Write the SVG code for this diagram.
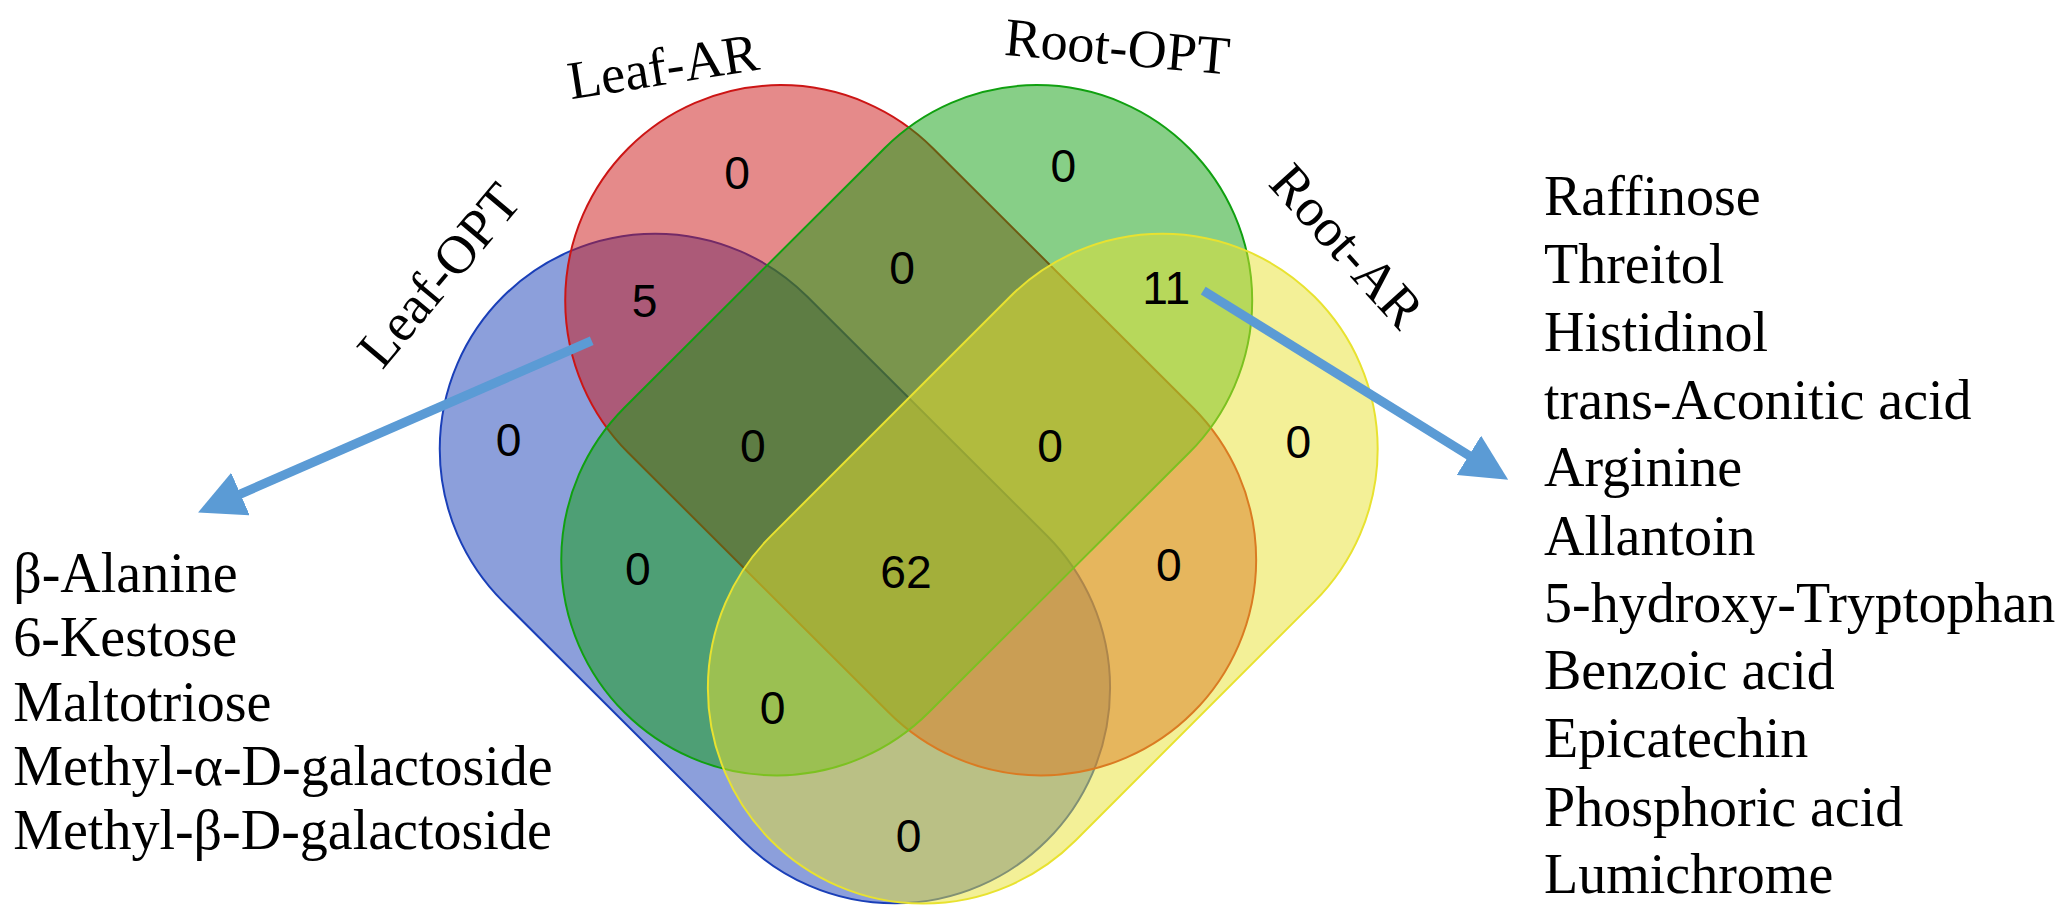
<svg xmlns="http://www.w3.org/2000/svg" width="2071" height="914" viewBox="0 0 2071 914">
<style>
.s{stroke-width:1.5}
.n{font-family:"Liberation Sans",Arial,sans-serif;font-size:35px;text-anchor:middle;fill:#000}
.t{font-family:"Liberation Serif","Times New Roman",serif;font-size:42.4px;fill:#000}
.h{font-family:"Liberation Serif","Times New Roman",serif;font-size:41px;fill:#000;text-anchor:middle}
.a{stroke:#5b9bd5;stroke-width:7;fill:none}
</style>
<defs>
<marker id="ah" markerWidth="5" markerHeight="5" refX="2.5" refY="2.5" orient="auto" markerUnits="strokeWidth">
<path d="M0,0 L5,2.5 L0,5 Z" fill="#5b9bd5"/>
</marker>
</defs>
<rect width="2071" height="914" fill="#fff"/>
<g transform="scale(1.3208)">
<g id="leaf-opt"><path class="s" fill="#1a3fb8" fill-opacity="0.5" stroke="#1a3fb8" d="M611.3,224.7 L792.7,405.6 A163,163 0 0 1 562.1,636.2 L380.7,455.3 A163,163 0 0 1 611.3,224.7 Z"/></g>
<g id="leaf-ar"><path class="s" fill="#cc1515" fill-opacity="0.5" stroke="#cc1515" d="M706.3,112.2 L903.3,308.7 A163,163 0 0 1 672.7,539.3 L475.7,342.8 A163,163 0 0 1 706.3,112.2 Z"/></g>
<g id="root-opt"><path class="s" fill="#10a010" fill-opacity="0.5" stroke="#10a010" d="M900.3,342.8 L703.3,539.3 A163,163 0 0 1 472.7,308.7 L669.7,112.2 A163,163 0 0 1 900.3,342.8 Z"/></g>
<g id="root-ar"><path class="s" fill="#e8e230" fill-opacity="0.5" stroke="#e8e230" d="M995.3,455.3 L814.3,636.3 A163,163 0 0 1 583.7,405.7 L764.7,224.7 A163,163 0 0 1 995.3,455.3 Z"/></g>
<g id="counts">
<text class="n" x="558" y="143">0</text>
<text class="n" x="805" y="138">0</text>
<text class="n" x="488" y="240">5</text>
<text class="n" x="683" y="215">0</text>
<text class="n" x="883" y="230">11</text>
<text class="n" x="385" y="345">0</text>
<text class="n" x="570" y="350">0</text>
<text class="n" x="795" y="350">0</text>
<text class="n" x="983" y="347">0</text>
<text class="n" x="483" y="443">0</text>
<text class="n" x="686" y="445">62</text>
<text class="n" x="885" y="440">0</text>
<text class="n" x="585" y="548">0</text>
<text class="n" x="688" y="645">0</text>
</g>
<g id="set-labels">
<text class="h" transform="translate(502,50) rotate(-9)" y="14">Leaf-AR</text>
<text class="h" transform="translate(846,35) rotate(5)" y="14">Root-OPT</text>
<text class="h" transform="translate(332,208) rotate(-50)" y="14">Leaf-OPT</text>
<text class="h" transform="translate(1020,186) rotate(48)" y="14">Root-AR</text>
</g>
<g id="connectors">
<line class="a" x1="448" y1="258" x2="166" y2="381" marker-end="url(#ah)"/>
<line class="a" x1="911" y1="220" x2="1127" y2="354" marker-end="url(#ah)"/>
</g>
<g id="left-list">
<text class="t" x="10" y="448">β-Alanine</text>
<text class="t" x="10" y="497">6-Kestose</text>
<text class="t" x="10" y="546">Maltotriose</text>
<text class="t" x="10" y="594">Methyl-α-D-galactoside</text>
<text class="t" x="10" y="643">Methyl-β-D-galactoside</text>
</g>
<g id="right-list">
<text class="t" x="1169" y="163">Raffinose</text>
<text class="t" x="1169" y="214">Threitol</text>
<text class="t" x="1169" y="266">Histidinol</text>
<text class="t" x="1169" y="317">trans-Aconitic acid</text>
<text class="t" x="1169" y="368">Arginine</text>
<text class="t" x="1169" y="420">Allantoin</text>
<text class="t" x="1169" y="471">5-hydroxy-Tryptophan</text>
<text class="t" x="1169" y="522">Benzoic acid</text>
<text class="t" x="1169" y="573">Epicatechin</text>
<text class="t" x="1169" y="625">Phosphoric acid</text>
<text class="t" x="1169" y="676">Lumichrome</text>
</g>
</g>
</svg>
